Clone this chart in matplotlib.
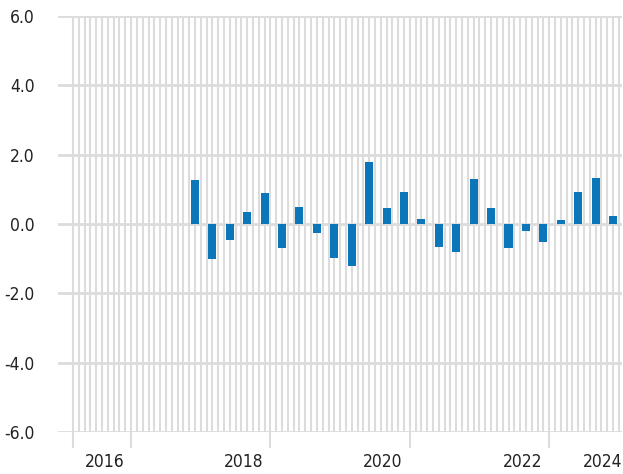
import numpy as np
import pandas as pd
import matplotlib
matplotlib.use("Agg")
import matplotlib.pyplot as plt

# quarterly values, 2017Q4 .. 2023Q4
quarters = pd.period_range("2017Q4", "2023Q4", freq="Q")
values = [1.28, -1.02, -0.45, 0.34, 0.90, -0.68, 0.50, -0.25, -0.99, -1.20,
          1.80, 0.47, 0.93, 0.15, -0.65, -0.80, 1.31, 0.47, -0.68, -0.19,
          -0.51, 0.12, 0.93, 1.34, 0.24]
year_labels = ["2016", "2018", "2020", "2022", "2024"]
y_ticks = [-6, -4, -2, 0, 2, 4, 6]

BLUE = "#0b76ba"
GRID = "#dcdcdc"

plt.rcParams['font.family'] = ['DejaVu Sans']
plt.rcParams['font.stretch'] = 'condensed'

# fractional year of each quarter start month (Oct, Jan, Apr, Jul)
x = np.array([q.year + (q.quarter * 3 - 3) / 12 for q in quarters])

fig = plt.figure(figsize=(6.23, 4.74), dpi=100)
ax = fig.add_axes([58 / 623, 42 / 474, 564 / 623, 416 / 474])
xmin, xmax = 2015.784, 2023.879
ax.set_xlim(xmin, xmax)
ax.set_ylim(-6, 6)

# monthly vertical grid
for m in np.arange(2016.0, xmax, 1 / 12):
    ax.axvline(m, color=GRID, lw=1.5, zorder=0)
for yv in y_ticks:
    ax.axhline(yv, color=GRID, lw=2, zorder=1)

ax.bar(x, values, width=0.115, color=BLUE, zorder=3)

for s in ax.spines.values():
    s.set_visible(False)

ax.set_yticks(y_ticks)
ax.set_yticklabels([f"{v:.1f}" for v in y_ticks])
ax.tick_params(axis="y", length=0, pad=17, labelsize=12.5, labelcolor="#222222")

# year labels sit a bit into each year; last one pulled inside the frame
label_pos = [int(l) + 0.45 for l in year_labels]
label_pos[-1] = min(label_pos[-1], xmax - 0.28)
ax.set_xticks(label_pos)
ax.set_xticklabels(year_labels)
ax.tick_params(axis="x", which="major", length=0, pad=15, labelsize=12.5,
               labelcolor="#222222")
ax.set_xticks([2016.0, 2016.83, 2018.83, 2020.83, 2022.83], minor=True)
ax.tick_params(axis="x", which="minor", length=11.5, width=1.5, color=GRID)

fig.savefig("out.png", dpi=100)
